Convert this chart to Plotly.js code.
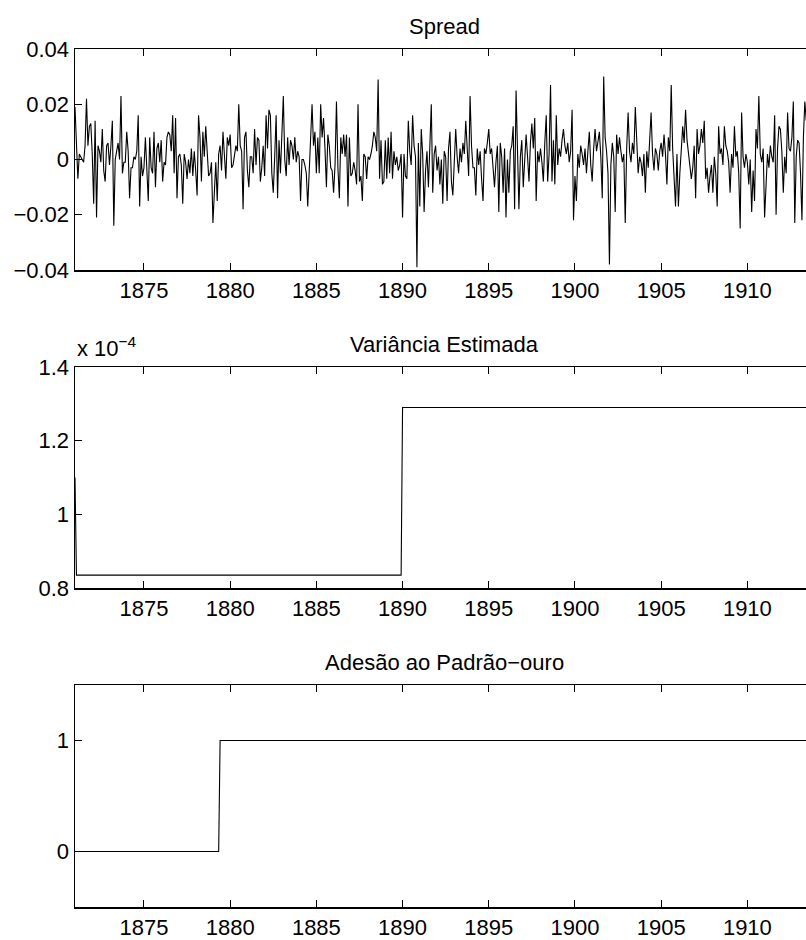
<!DOCTYPE html>
<html>
<head>
<meta charset="utf-8">
<script src="https://cdn.plot.ly/plotly-3.0.1.min.js"></script>
<style>
  html, body { margin: 0; padding: 0; overflow: hidden; background: #ffffff; }
  #chart { width: 813px; height: 940px; }
</style>
</head>
<body>
<div id="chart"></div>
<script>
// ---------------- DATA ----------------
// Monthly series starting January 1871
const startYear = 1871;
const monthsPerYear = 12;

// Spread, in thousandths (value * 0.001), monthly from 1871
const spreadThousandths = [
  19,3,-7,2,1,0,-1,5,22,5,12,13,
  2,-16,14,-21,5,3,-1,11,-4,-8,5,6,
  -2,5,14,-24,0,3,6,0,23,-5,-1,-1,
  10,3,-14,-3,-3,1,0,3,16,-17,1,-6,
  -3,8,-5,-15,8,-3,-5,10,-10,4,6,-1,
  7,-8,-1,-2,8,10,9,3,16,-5,15,-14,
  1,2,-2,-16,2,-1,-7,0,-5,4,-6,3,
  -4,-13,16,8,-8,10,1,12,3,-6,-5,-1,
  -23,-14,-1,-15,2,5,-4,10,3,-7,8,5,
  9,-3,-2,1,5,3,20,5,3,-18,8,10,
  -4,-10,1,1,-5,11,-2,8,7,-8,-3,5,
  -6,16,4,18,16,-5,-12,1,16,-14,7,-5,
  9,23,0,-6,8,-2,7,5,0,8,-1,3,
  1,-15,0,0,-2,-5,-17,-4,10,20,5,10,
  -5,8,-5,20,8,15,4,-10,9,5,-3,-4,
  -12,-2,21,-3,-14,8,2,9,1,9,-17,8,
  -6,-5,-1,-4,-9,20,-8,-6,-15,2,1,-7,
  1,0,2,5,10,8,3,29,-7,7,-9,-8,
  7,-7,8,-5,10,-7,3,-2,1,-4,-2,2,
  // 1890
  -21,2,-6,-7,14,3,-2,16,5,1,-39,6,
  -17,11,2,-19,-4,3,-10,5,20,-12,2,5,
  -4,1,-9,0,-16,3,1,-15,4,10,-8,-13,
  2,11,1,-5,4,-1,6,2,14,3,-6,23,
  5,-3,-3,-13,4,-2,3,-7,-15,4,2,6,
  11,2,4,-3,-10,-1,5,-19,6,1,-12,4,
  -21,0,-12,3,5,12,-18,25,3,-18,1,7,
  -10,2,9,1,-8,6,13,4,15,-15,3,-1,
  4,-1,-8,6,16,-8,2,27,-8,7,-9,16,
  -2,4,1,7,11,5,2,6,-1,3,18,-22,
  -6,-15,2,-3,5,2,-2,4,-5,3,10,-2,
  -8,4,11,3,6,10,1,-14,30,8,3,-5,
  -38,-2,6,1,-19,9,2,8,3,-1,2,-23,
  4,17,3,-1,6,2,19,4,-5,1,-1,-6,
  2,-12,3,-3,5,17,2,-4,4,2,-4,3,
  6,1,9,2,-9,8,3,27,4,-5,-17,2,
  -17,-5,4,12,6,18,7,2,-3,-7,-3,5,
  -14,11,2,5,11,6,14,-7,-3,-12,-6,-2,
  -12,1,-5,-17,12,2,4,-2,12,5,3,-1,
  -12,2,-3,12,1,3,-5,-25,17,1,-3,2,
  -1,-9,0,-19,-4,-15,11,4,23,2,-1,4,
  -21,-9,2,-3,5,1,-1,16,-20,4,12,11,
  3,-12,1,-5,17,4,3,8,21,-23,1,7,
  6,-5,-22,8,21,14
];

// Estimated variance regimes: month index where each level starts
const varianceStartMonth = [0, 1, 228];
const varianceLevel = [1.10e-4, 0.835e-4, 1.29e-4];

// Gold standard adherence: month index where each state starts
const goldStartMonth = [0, 101];
const goldState = [0, 1];

// Axis ticks
const yearTicks = [1875, 1880, 1885, 1890, 1895, 1900, 1905, 1910];
const yearTickLabels = ['1875','1880','1885','1890','1895','1900','1905','1910'];
const spreadTicks = [-0.04, -0.02, 0, 0.02, 0.04];
const spreadTickLabels = ['\u22120.04','\u22120.02','0','0.02','0.04'];
const varianceTicks = [0.8e-4, 1.0e-4, 1.2e-4, 1.4e-4];
const varianceTickLabels = ['0.8','1','1.2','1.4'];
const goldTicks = [0, 1];
const goldTickLabels = ['0','1'];

const titles = ['Spread', 'Vari\u00e2ncia Estimada', 'Ades\u00e3o ao Padr\u00e3o\u2212ouro'];

// ---------------- BUILD ----------------
const n = spreadThousandths.length;
const months = spreadThousandths.map((_, i) => startYear + i / monthsPerYear);
const spread = spreadThousandths.map(v => v * 0.001);

function stepSeries(starts, levels) {
  return months.map((_, i) => {
    let val = levels[0];
    for (let k = 0; k < starts.length; k++) if (i >= starts[k]) val = levels[k];
    return val;
  });
}
const variance = stepSeries(varianceStartMonth, varianceLevel);
const gold = stepSeries(goldStartMonth, goldState);

const lineStyle = {color: '#000000', width: 1.1};
const traces = [
  {x: months, y: spread, type: 'scatter', mode: 'lines', line: lineStyle, xaxis: 'x', yaxis: 'y', hoverinfo: 'skip'},
  {x: months, y: variance, type: 'scatter', mode: 'lines', line: lineStyle, xaxis: 'x2', yaxis: 'y2', hoverinfo: 'skip'},
  {x: months, y: gold, type: 'scatter', mode: 'lines', line: lineStyle, xaxis: 'x3', yaxis: 'y3', hoverinfo: 'skip'}
];

const H = 940;
function dom(top, bottom) { return [1 - bottom / H, 1 - top / H]; }
const d1 = dom(49, 270), d2 = dom(367, 588), d3 = dom(685, 907);

const xRange = [1871.0, 1871.0 + 738 / 17.24];
function xAxis(anchor) {
  return {
    anchor: anchor, domain: [0, 1], range: xRange,
    tickvals: yearTicks, ticktext: yearTickLabels,
    ticks: 'inside', ticklen: 7, tickwidth: 1, tickcolor: '#000',
    showline: true, linecolor: '#000', linewidth: 1.5, mirror: 'ticks',
    showgrid: false, zeroline: false, fixedrange: true
  };
}
function yAxis(anchor, domain, range, tv, tt) {
  return {
    anchor: anchor, domain: domain, range: range,
    tickvals: tv, ticktext: tt,
    ticks: 'inside', ticklen: 7, tickwidth: 1, tickcolor: '#000',
    showline: true, linecolor: '#000', linewidth: 1.5, mirror: 'ticks',
    showgrid: false, zeroline: false, fixedrange: true
  };
}

const layout = {
  width: 813, height: 940,
  margin: {l: 75, r: 0, t: 0, b: 0},
  paper_bgcolor: '#ffffff', plot_bgcolor: '#ffffff',
  showlegend: false,
  font: {family: '"Liberation Sans", Arial, Helvetica, sans-serif', size: 22, color: '#000'},
  xaxis: xAxis('y'),
  yaxis: yAxis('x', d1, [-0.04, 0.04], spreadTicks, spreadTickLabels),
  xaxis2: xAxis('y2'),
  yaxis2: yAxis('x2', d2, [0.8e-4, 1.4e-4], varianceTicks, varianceTickLabels),
  xaxis3: xAxis('y3'),
  yaxis3: yAxis('x3', d3, [-0.5, 1.5], goldTicks, goldTickLabels),
  annotations: [
    {text: titles[0], xref: 'paper', yref: 'paper', x: 0.5, y: d1[1], xanchor: 'center', yanchor: 'bottom', yshift: 8, showarrow: false},
    {text: titles[1], xref: 'paper', yref: 'paper', x: 0.5, y: d2[1], xanchor: 'center', yanchor: 'bottom', yshift: 8, showarrow: false},
    {text: titles[2], xref: 'paper', yref: 'paper', x: 0.5, y: d3[1], xanchor: 'center', yanchor: 'bottom', yshift: 8, showarrow: false},
    {text: 'x 10<sup>\u22124</sup>', xref: 'paper', yref: 'paper', x: 0, y: d2[1], xanchor: 'left', yanchor: 'bottom', yshift: 4, showarrow: false}
  ]
};

Plotly.newPlot('chart', traces, layout, {staticPlot: true, displayModeBar: false});
</script>
</body>
</html>
